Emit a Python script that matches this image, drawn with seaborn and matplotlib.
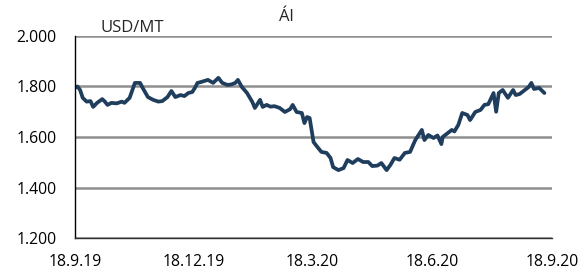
import numpy as np
import pandas as pd
import matplotlib
matplotlib.use("Agg")
import matplotlib.pyplot as plt
import matplotlib.dates as mdates
from matplotlib.ticker import FuncFormatter
import seaborn as sns

# aluminium price, USD per metric ton
dates = [
    "2019-09-18", "2019-09-20", "2019-09-22", "2019-09-24", "2019-09-27", "2019-09-30",
    "2019-10-02", "2019-10-05", "2019-10-09", "2019-10-11", "2019-10-13", "2019-10-16",
    "2019-10-20", "2019-10-24", "2019-10-26", "2019-10-30", "2019-11-03", "2019-11-07",
    "2019-11-09", "2019-11-13", "2019-11-17", "2019-11-21", "2019-11-24", "2019-11-28",
    "2019-12-01", "2019-12-04", "2019-12-08", "2019-12-11", "2019-12-14", "2019-12-17",
    "2019-12-19", "2019-12-21", "2019-12-24", "2019-12-29", "2020-01-02", "2020-01-06",
    "2020-01-09", "2020-01-13", "2020-01-16", "2020-01-19", "2020-01-21", "2020-01-24",
    "2020-01-28", "2020-02-01", "2020-02-03", "2020-02-07", "2020-02-09", "2020-02-12",
    "2020-02-15", "2020-02-18", "2020-02-22", "2020-02-26", "2020-03-01", "2020-03-03",
    "2020-03-06", "2020-03-10", "2020-03-12", "2020-03-14", "2020-03-16", "2020-03-19",
    "2020-03-22", "2020-03-25", "2020-03-29", "2020-04-01", "2020-04-03", "2020-04-07",
    "2020-04-11", "2020-04-14", "2020-04-18", "2020-04-22", "2020-04-26", "2020-04-30",
    "2020-05-03", "2020-05-07", "2020-05-10", "2020-05-14", "2020-05-17", "2020-05-20",
    "2020-05-24", "2020-05-28", "2020-06-01", "2020-06-05", "2020-06-10", "2020-06-12",
    "2020-06-15", "2020-06-19", "2020-06-22", "2020-06-25", "2020-06-26", "2020-06-30",
    "2020-07-03", "2020-07-05", "2020-07-08", "2020-07-11", "2020-07-15", "2020-07-17",
    "2020-07-21", "2020-07-25", "2020-07-28", "2020-07-31", "2020-08-04", "2020-08-06",
    "2020-08-08", "2020-08-11", "2020-08-15", "2020-08-19", "2020-08-21", "2020-08-24",
    "2020-08-28", "2020-08-31", "2020-09-02", "2020-09-04", "2020-09-08", "2020-09-12",
]
prices = [
    1795, 1800, 1786, 1755, 1740, 1742,
    1719, 1735, 1750, 1740, 1727, 1735,
    1733, 1740, 1735, 1755, 1814, 1814,
    1794, 1758, 1747, 1740, 1742, 1758,
    1782, 1758, 1766, 1762, 1774, 1778,
    1794, 1814, 1818, 1826, 1814, 1834,
    1814, 1806, 1808, 1814, 1826, 1798,
    1774, 1739, 1715, 1747, 1719, 1727,
    1720, 1722, 1715, 1699, 1710, 1727,
    1699, 1695, 1655, 1679, 1675, 1580,
    1560, 1541, 1537, 1517, 1481, 1469,
    1477, 1509, 1497, 1513, 1501, 1501,
    1485, 1487, 1497, 1469, 1490, 1517,
    1510, 1537, 1541, 1588, 1628, 1588,
    1608, 1596, 1606, 1572, 1600, 1616,
    1628, 1622, 1648, 1695, 1687, 1667,
    1699, 1707, 1727, 1730, 1774, 1700,
    1774, 1786, 1755, 1786, 1766, 1770,
    1786, 1798, 1814, 1790, 1794, 1774,
]
tick_dates = ["2019-09-18", "2019-12-18", "2020-03-18", "2020-06-18", "2020-09-18"]
y_ticks = [1200, 1400, 1600, 1800, 2000]

df = pd.DataFrame({"date": pd.to_datetime(dates), "price": prices})

sns.set_style("white")
plt.rcParams["font.family"] = ["Open Sans", "DejaVu Sans"]

fig, ax = plt.subplots(figsize=(5.85, 2.74), dpi=100)
fig.subplots_adjust(left=0.128, right=0.944, bottom=0.131, top=0.869)

sns.lineplot(data=df, x="date", y="price", ax=ax, color="#1f3d5c", linewidth=2.7)

ticks = pd.to_datetime(tick_dates)
ax.set_xlim(ticks[0], ticks[-1])
ax.set_ylim(y_ticks[0], y_ticks[-1])
ax.set_xticks(ticks)
ax.xaxis.set_major_formatter(FuncFormatter(
    lambda v, p: (lambda d: f"{d.day}.{d.month}.{d:%y}")(mdates.num2date(v))))
ax.set_yticks(y_ticks)
ax.yaxis.set_major_formatter(FuncFormatter(lambda v, p: f"{v:,.0f}".replace(",", ".")))

ax.grid(axis="y", color="#8f8f8f", linewidth=1.8)
ax.set_axisbelow(True)
for s in ["top", "right"]:
    ax.spines[s].set_visible(False)
ax.spines["left"].set_color("black")
ax.spines["bottom"].set_color("#303030")
ax.spines["left"].set_linewidth(1.0)
ax.spines["bottom"].set_linewidth(1.0)
ax.tick_params(axis="both", direction="out", length=3.5, width=1, labelsize=11.3,
               colors="black")
ax.tick_params(axis="y", pad=9.5)
ax.tick_params(axis="x", pad=8)
ax.set_xlabel("")
ax.set_ylabel("")

fig.text(286 / 585, 1 - 17 / 274, "Ál", ha="center", va="center", fontsize=12)
fig.text(132 / 585, 1 - 28 / 274, "USD/MT", ha="center", va="center", fontsize=12)

fig.savefig("out.png", dpi=100)
